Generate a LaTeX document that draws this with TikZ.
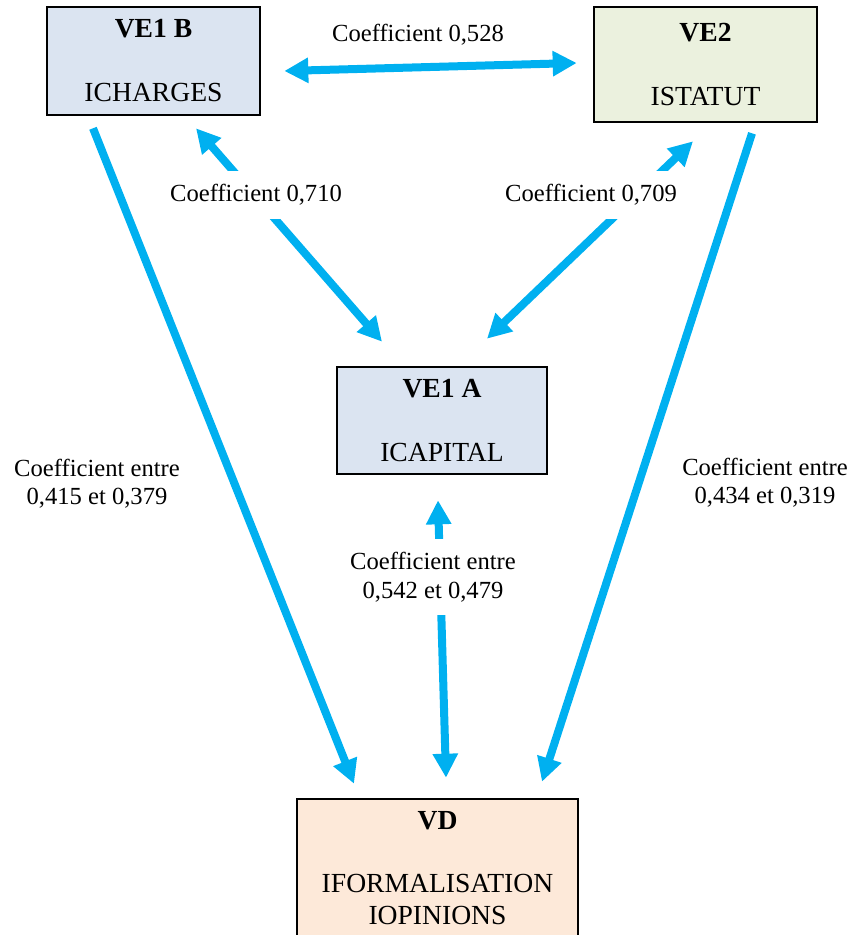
\documentclass[tikz,border=0pt]{standalone}
\usepackage{fontspec}
\setmainfont{Liberation Serif}
\usetikzlibrary{arrows.meta,calc}
\definecolor{arrowblue}{HTML}{00B0F0}
\definecolor{bluefill}{HTML}{DBE4F1}
\definecolor{greenfill}{HTML}{EBF1DE}
\definecolor{orangefill}{HTML}{FDE9D9}
\begin{document}
\begin{tikzpicture}[x=0.5pt,y=-0.5pt,
  box/.style={draw=black,line width=1.3pt,rectangle,inner sep=0pt,align=center,
    font=\fontsize{13.8pt}{16pt}\selectfont},
  conn/.style={draw=arrowblue,line width=4pt},
  onehead/.style={-{Triangle[length=12pt,width=12pt]}},
  twohead/.style={{Triangle[length=12pt,width=12pt]}-{Triangle[length=12pt,width=12pt]}},
  lbl/.style={fill=white,align=center,inner xsep=2pt,inner ysep=6.5pt,
    font=\fontsize{12.3pt}{14.5pt}\selectfont},
  sidelbl/.style={align=center,inner sep=0pt,font=\fontsize{12.3pt}{14pt}\selectfont}]
\useasboundingbox (0,0) rectangle (852,935);
\clip (0,0) rectangle (852,935);

% boxes
\node[box,fill=bluefill,minimum width=106.5pt,minimum height=54pt] (VE1B) at (153.5,61)
  {\textbf{VE1 B}\\[16pt]ICHARGES};
\node[box,fill=greenfill,minimum width=111.5pt,minimum height=57.5pt] (VE2) at (705.5,64.5)
  {\textbf{VE2}\\[16pt]ISTATUT};
\node[box,fill=bluefill,minimum width=105pt,minimum height=53.5pt] (VE1A) at (442,420.5)
  {\textbf{VE1 A}\\[16pt]ICAPITAL};
\node[box,fill=orangefill,minimum width=140.5pt,minimum height=69pt] (VD) at (437.5,868)
  {\textbf{VD}\\[15.5pt]IFORMALISATION\\IOPINIONS};

% connectors
\draw[conn,twohead] ([shift={(23,10)}]VE1B.east) -- ([shift={(-16,-1.5)}]VE2.west);
\node[sidelbl] (l528) at (418,35) {Coefficient 0,528};

\draw[conn,twohead] ([shift={(42.5,12)}]VE1B.south) -- ([shift={(-60,-24)}]VE1A.north);
\node[lbl] (l710) at (256,195) {Coefficient 0,710};

\draw[conn,twohead] ([shift={(-12.5,18)}]VE2.south) -- ([shift={(45,-27)}]VE1A.north);
\node[lbl] (l709) at (591,195) {Coefficient 0,709};

\draw[conn,onehead] ([shift={(-60.5,12)}]VE1B.south) -- ([shift={(-83.5,-14)}]VD.north);
\node[sidelbl] (lleft) at (97,484) {Coefficient entre\\0,415 et 0,379};

\draw[conn,onehead] ([shift={(46.5,10)}]VE2.south) -- ([shift={(104.5,-16)}]VD.north);
\node[sidelbl] (lright) at (765,483) {Coefficient entre\\0,434 et 0,319};

\draw[conn,twohead] ([shift={(8.5,-20)}]VD.north) -- ([shift={(-4,25)}]VE1A.south);
\node[lbl] (lmid) at (433,577) {Coefficient entre\\0,542 et 0,479};
\end{tikzpicture}
\end{document}
